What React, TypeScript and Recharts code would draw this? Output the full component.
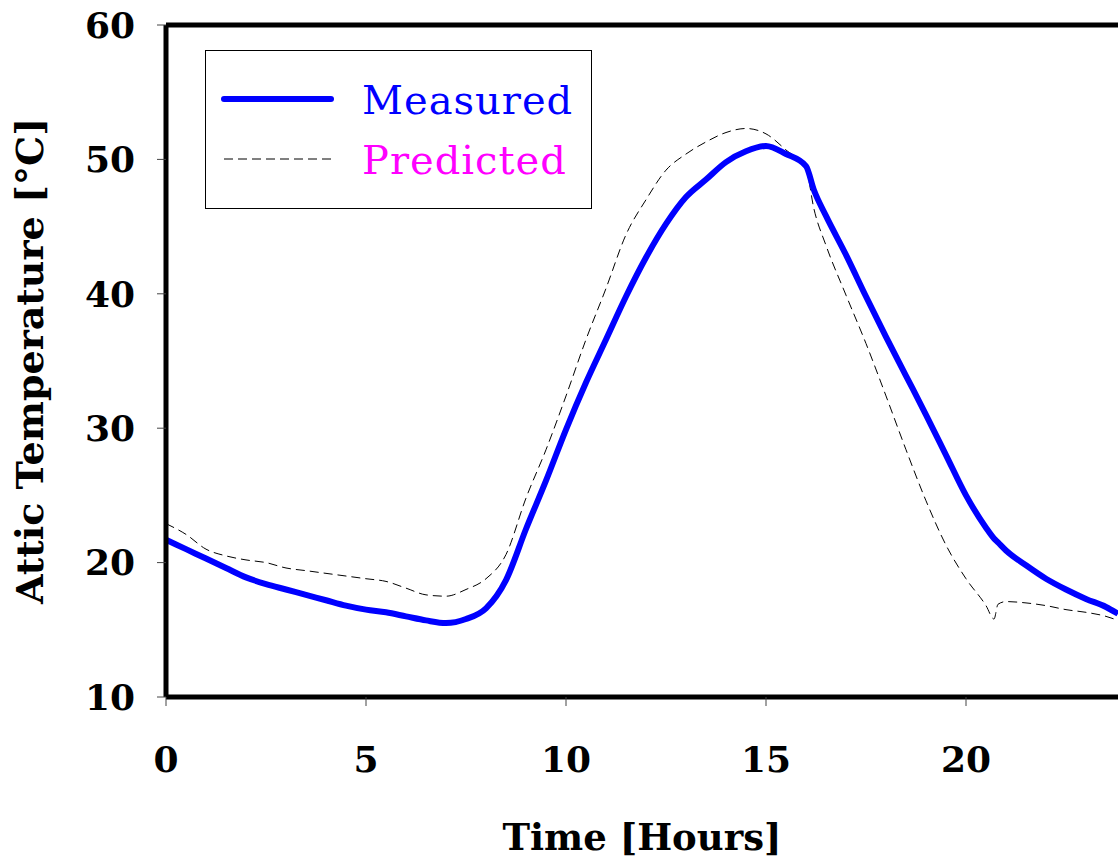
import React from 'react';
import {
  LineChart,
  Line,
  XAxis,
  YAxis,
  Legend,
  ReferenceLine,
} from 'recharts';

// hours since midnight
const hours = [
  0, 0.5, 1, 1.5, 2, 2.5, 3, 3.5, 4, 4.5, 5, 5.5, 6, 6.5, 7, 7.5, 8, 8.5, 9, 9.5,
  10, 10.5, 11, 11.5, 12, 12.5, 13, 13.5, 14, 14.5, 15, 15.5, 16, 16.2, 16.5, 17,
  17.5, 18, 18.5, 19, 19.5, 20, 20.5, 20.7, 20.8, 21, 21.5, 22, 22.5, 23, 23.5, 23.8,
];

const measured = [
  21.7, 21.0, 20.3, 19.6, 18.9, 18.4, 18.0, 17.6, 17.2, 16.8, 16.5, 16.3, 16.0, 15.7,
  15.5, 15.8, 16.6, 18.7, 22.5, 26.1, 29.9, 33.4, 36.6, 39.8, 42.7, 45.2, 47.2, 48.5,
  49.8, 50.6, 51.0, 50.4, 49.5, 47.7, 45.8, 42.9, 39.8, 36.8, 33.9, 31.0, 28.0, 25.0,
  22.6, 21.8, 21.5, 20.9, 19.8, 18.8, 18.0, 17.3, 16.7, 16.2,
];

const predicted = [
  22.9, 22.1, 21.0, 20.5, 20.2, 20.0, 19.6, 19.4, 19.2, 19.0, 18.8, 18.6, 18.1, 17.6,
  17.5, 18.0, 18.8, 20.6, 24.8, 28.4, 32.4, 36.6, 40.4, 44.4, 47.0, 49.2, 50.4, 51.3,
  52.0, 52.3, 51.9, 50.7, 49.3, 46.3, 43.6, 39.9, 36.3, 32.4, 28.4, 24.6, 21.3, 18.8,
  16.8, 15.8, 16.9, 17.1, 17.0, 16.8, 16.5, 16.3, 16.0, 15.7,
];

const xTicks = [0, 5, 10, 15, 20];
const yTicks = [10, 20, 30, 40, 50, 60];

const data = hours.map((h, i) => ({
  hour: h,
  measured: measured[i],
  predicted: predicted[i],
}));

const FONT = '"DejaVu Serif", serif';

const legendTextColor: Record<string, string> = {
  Measured: '#0000ff',
  Predicted: '#ff00ff',
};

function renderLegend(props: any) {
  const { payload } = props;
  return (
    <svg width={388} height={160} style={{ display: 'block' }}>
      <rect x={0.5} y={0.5} width={386} height={158} fill="#fff" stroke="#000" strokeWidth={1} />
      {payload.map((entry: any, i: number) => {
        const cy = 49 + i * 60;
        const isMeasured = entry.value === 'Measured';
        return (
          <g key={entry.value}>
            <line
              x1={19}
              x2={126}
              y1={cy}
              y2={cy}
              stroke={isMeasured ? '#0000ff' : '#000'}
              strokeWidth={isMeasured ? 6 : 1}
              strokeLinecap={isMeasured ? 'round' : 'butt'}
              strokeDasharray={isMeasured ? undefined : '9 5'}
            />
            <text
              x={157}
              y={cy + 15}
              fontFamily={FONT}
              fontSize={40}
              letterSpacing={1}
              fill={legendTextColor[entry.value]}
            >
              {entry.value}
            </text>
          </g>
        );
      })}
    </svg>
  );
}

export default function App() {
  return (
    <div style={{ position: 'absolute', left: 0, top: 0 }}>
      <LineChart
        width={1118}
        height={860}
        data={data}
        margin={{ top: 25, right: 0, left: 0, bottom: 0 }}
      >
        <XAxis
          dataKey="hour"
          type="number"
          domain={[0, 23.8]}
          ticks={xTicks}
          height={163}
          axisLine={{ stroke: '#000', strokeWidth: 5 }}
          tickLine={{ stroke: '#444', strokeWidth: 1 }}
          tickSize={9}
          tickMargin={40}
          tick={{ fontFamily: FONT, fontSize: 36, fontWeight: 'bold', fill: '#000' }}
          label={{
            value: 'Time [Hours]',
            position: 'insideBottom',
            offset: 10,
            style: { fontFamily: FONT, fontSize: 37, fontWeight: 'bold', fill: '#000' },
          }}
        />
        <YAxis
          type="number"
          domain={[10, 60]}
          ticks={yTicks}
          width={166}
          axisLine={{ stroke: '#000', strokeWidth: 5 }}
          tickLine={{ stroke: '#444', strokeWidth: 1 }}
          tickSize={9}
          tickMargin={22}
          tick={{ fontFamily: FONT, fontSize: 36, fontWeight: 'bold', fill: '#000' }}
          label={{
            value: 'Attic Temperature [°C]',
            angle: -90,
            position: 'insideLeft',
            offset: 30,
            style: {
              fontFamily: FONT,
              fontSize: 38,
              fontWeight: 'bold',
              fill: '#000',
              textAnchor: 'middle',
            },
          }}
        />
        <ReferenceLine y={60} stroke="#000" strokeWidth={5} />
        <Legend
          content={renderLegend}
          layout="vertical"
          align="center"
          verticalAlign="middle"
          wrapperStyle={{ position: 'absolute', left: 205, top: 50, width: 388, height: 160 }}
        />
        <Line
          type="monotone"
          dataKey="predicted"
          name="Predicted"
          stroke="#000"
          strokeWidth={1}
          strokeDasharray="9 5"
          dot={false}
          isAnimationActive={false}
        />
        <Line
          type="monotone"
          dataKey="measured"
          name="Measured"
          stroke="#0000ff"
          strokeWidth={6}
          dot={false}
          isAnimationActive={false}
        />
      </LineChart>
    </div>
  );
}
